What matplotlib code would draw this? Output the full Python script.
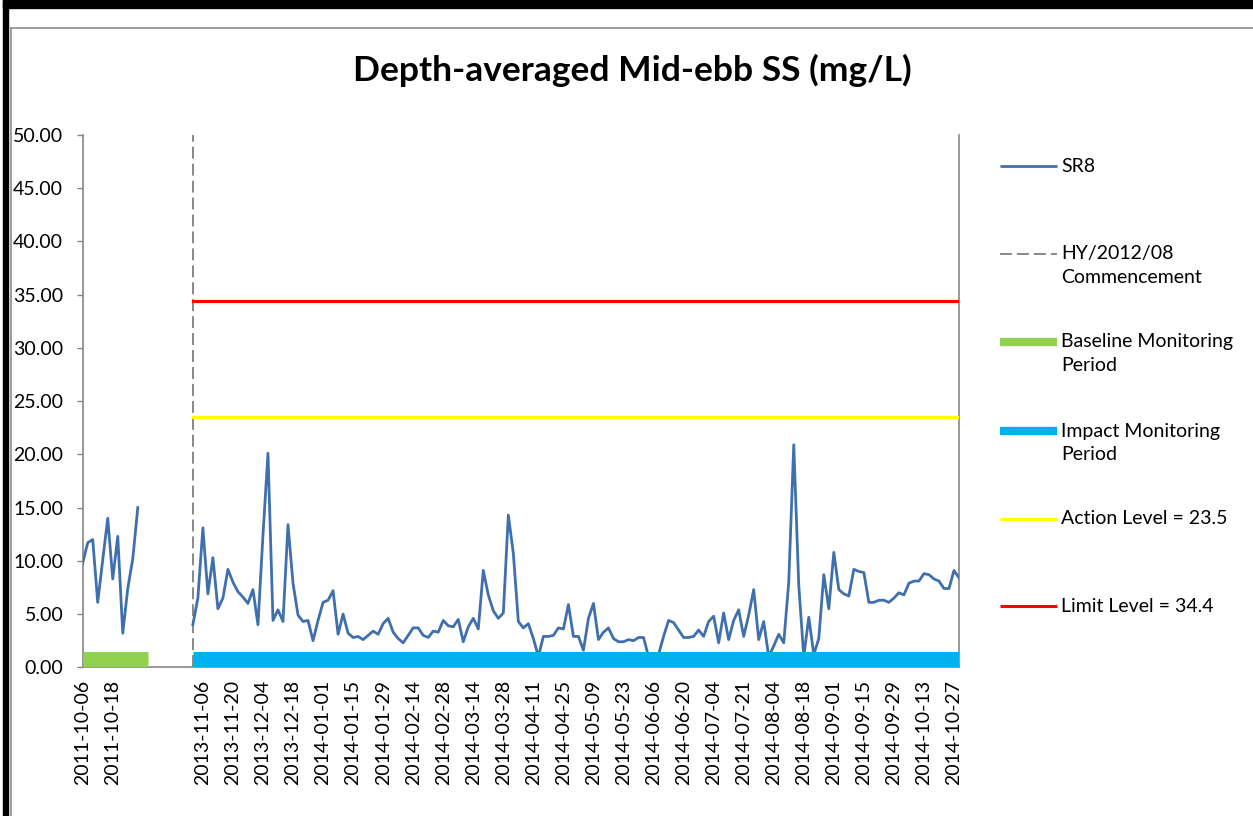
import numpy as np
import matplotlib.pyplot as plt
from matplotlib.lines import Line2D
from matplotlib.patches import Rectangle
from matplotlib.ticker import FixedLocator, FormatStrFormatter

plt.rcParams['font.family'] = ['Lato', 'DejaVu Sans']
plt.rcParams['lines.scale_dashes'] = False

# Sampling categories: baseline 2011-10-06.., impact 2013-11-01..2014-10-27+
n_categories = 176
baseline_start = 0
impact_start = 22

# SR8 depth-averaged mid-ebb SS (mg/L)
baseline_ss = [9.8, 11.7, 12.0, 6.1, 10.1, 14.0, 8.3, 12.3, 3.2, 7.4, 10.2, 15.0]
impact_ss = [
    4.0, 6.5, 13.1, 6.9, 10.3, 5.5, 6.5, 9.2, 8.0, 7.1,
    6.6, 6.0, 7.3, 4.0, 12.4, 20.1, 4.4, 5.4, 4.3, 13.4,
    7.9, 4.9, 4.3, 4.4, 2.5, 4.4, 6.1, 6.3, 7.2, 3.1,
    5.0, 3.2, 2.8, 2.9, 2.6, 3.0, 3.4, 3.1, 4.1, 4.6,
    3.3, 2.7, 2.3, 3.0, 3.7, 3.7, 3.0, 2.8, 3.4, 3.3,
    4.4, 3.9, 3.8, 4.5, 2.4, 3.8, 4.6, 3.6, 9.1, 6.8,
    5.3, 4.6, 5.1, 14.3, 10.7, 4.3, 3.7, 4.1, 2.7, 1.0,
    2.9, 2.9, 3.0, 3.7, 3.6, 5.9, 2.9, 2.9, 1.6, 4.6,
    6.0, 2.6, 3.3, 3.7, 2.7, 2.4, 2.4, 2.6, 2.5, 2.8,
    2.8, 1.0, 0.9, 1.2, 2.9, 4.4, 4.2, 3.5, 2.8, 2.8,
    2.9, 3.5, 2.9, 4.3, 4.8, 2.3, 5.1, 2.6, 4.4, 5.4,
    2.9, 4.9, 7.3, 2.6, 4.3, 1.0, 2.0, 3.1, 2.3, 8.0,
    20.9, 7.7, 1.0, 4.7, 1.2, 2.7, 8.7, 5.5, 10.8, 7.3,
    6.9, 6.7, 9.2, 9.0, 8.9, 6.1, 6.1, 6.3, 6.3, 6.1,
    6.5, 7.0, 6.8, 7.9, 8.1, 8.1, 8.8, 8.7, 8.3, 8.1,
    7.4, 7.4, 9.1, 8.4,
]

baseline_bar_end = 13
period_bar_level = 0.75
action_level = 23.5
limit_level = 34.4

x_labels = ['2011-10-06', '2011-10-18', '', '',
            '2013-11-06', '2013-11-20', '2013-12-04', '2013-12-18',
            '2014-01-01', '2014-01-15', '2014-01-29', '2014-02-14',
            '2014-02-28', '2014-03-14', '2014-03-28', '2014-04-11',
            '2014-04-25', '2014-05-09', '2014-05-23', '2014-06-06',
            '2014-06-20', '2014-07-04', '2014-07-21', '2014-08-04',
            '2014-08-18', '2014-09-01', '2014-09-15', '2014-09-29',
            '2014-10-13', '2014-10-27']

c_sr8 = '#3F6FAD'
c_base = '#92D050'
c_impact = '#00B0F0'
c_action = '#FFFF00'
c_limit = '#FF0000'
c_axis = '#868686'

W, H = 1253, 816
fig = plt.figure(figsize=(W / 100, H / 100), dpi=100)
ax = fig.add_axes([82.7 / W, 1 - 667.3 / H, (959 - 82.7) / W, (667.3 - 135) / H])

x_base = np.arange(baseline_start, baseline_start + len(baseline_ss))
x_imp = np.arange(impact_start, impact_start + len(impact_ss))
last = x_imp[-1]

ax.plot(x_base, baseline_ss, color=c_sr8, lw=2.0, zorder=3)
ax.plot(x_imp, impact_ss, color=c_sr8, lw=2.0, zorder=3)

# commencement marker
ax.plot([impact_start, impact_start], [0, 50], color='#7F7F7F', lw=1.3,
        dashes=(8.6, 3.6), zorder=2)

# monitoring periods as thick bands near zero
ax.plot([baseline_start, baseline_bar_end], [period_bar_level] * 2, color=c_base,
        lw=10.8, solid_capstyle='butt', zorder=4)
ax.plot([impact_start, last + 0.6], [period_bar_level] * 2, color=c_impact,
        lw=10.8, solid_capstyle='butt', zorder=4)

ax.plot([impact_start, last], [action_level] * 2, color=c_action, lw=2.2, zorder=3)
ax.plot([impact_start, last], [limit_level] * 2, color=c_limit, lw=2.2, zorder=3)

ax.set_xlim(0, n_categories - 1)
ax.set_ylim(0, 50)
ax.set_yticks(np.arange(0, 50.1, 5))
ax.yaxis.set_major_formatter(FormatStrFormatter('%.2f'))

ax.set_xticks(np.arange(0, n_categories, 6))
ax.set_xticklabels(x_labels, rotation=90)
ax.xaxis.set_minor_locator(FixedLocator(np.arange(0, n_categories, 12)))
ax.tick_params(axis='x', which='major', length=0, pad=9, labelsize=14)
ax.tick_params(axis='x', which='minor', length=4, width=1, color=c_axis)
ax.tick_params(axis='y', length=4, width=1, color=c_axis, pad=10, labelsize=14)

for s in ['top']:
    ax.spines[s].set_visible(False)
for s in ['left', 'bottom', 'right']:
    ax.spines[s].set_color(c_axis)
    ax.spines[s].set_linewidth(1.2)

fig.text(632 / W, 1 - 70 / H, 'Depth-averaged Mid-ebb SS (mg/L)', ha='center',
         va='center', fontsize=25.5, fontweight='bold')

# legend drawn at the right of the plot
legend_items = [
    ('SR8', c_sr8, 2.0, None, 166),
    ('HY/2012/08\nCommencement', '#7F7F7F', 1.3, (8.6, 3.6), 254),
    ('Baseline Monitoring\nPeriod', c_base, 6.0, None, 342),
    ('Impact Monitoring\nPeriod', c_impact, 6.0, None, 431),
    ('Action Level = 23.5', c_action, 2.2, None, 519),
    ('Limit Level = 34.4', c_limit, 2.2, None, 606),
]
for label, col, lw, dash, ypix in legend_items:
    yf = 1 - ypix / H
    ln = Line2D([1000 / W, 1057 / W], [yf, yf], color=col, lw=lw,
                solid_capstyle='butt', transform=fig.transFigure)
    if dash:
        ln.set_dashes(dash)
    fig.add_artist(ln)
    fig.text(1061 / W, 1 - (ypix - 8.5) / H, label, ha='left', va='top',
             fontsize=14, linespacing=1.45)

# chart frame
fig.add_artist(Rectangle((3 / W, 1 - 8 / H), 1, 8 / H, color='black',
                         transform=fig.transFigure))
fig.add_artist(Rectangle((3 / W, 0), 5 / W, 1, color='black',
                         transform=fig.transFigure))
fig.add_artist(Line2D([10.8 / W, 1], [1 - 27.5 / H] * 2, color='#8C8C8C', lw=1.2,
                      transform=fig.transFigure))
fig.add_artist(Line2D([10.8 / W] * 2, [0, 1 - 27.5 / H], color='#8C8C8C', lw=1.2,
                      transform=fig.transFigure))

fig.savefig('out.png', dpi=100)
